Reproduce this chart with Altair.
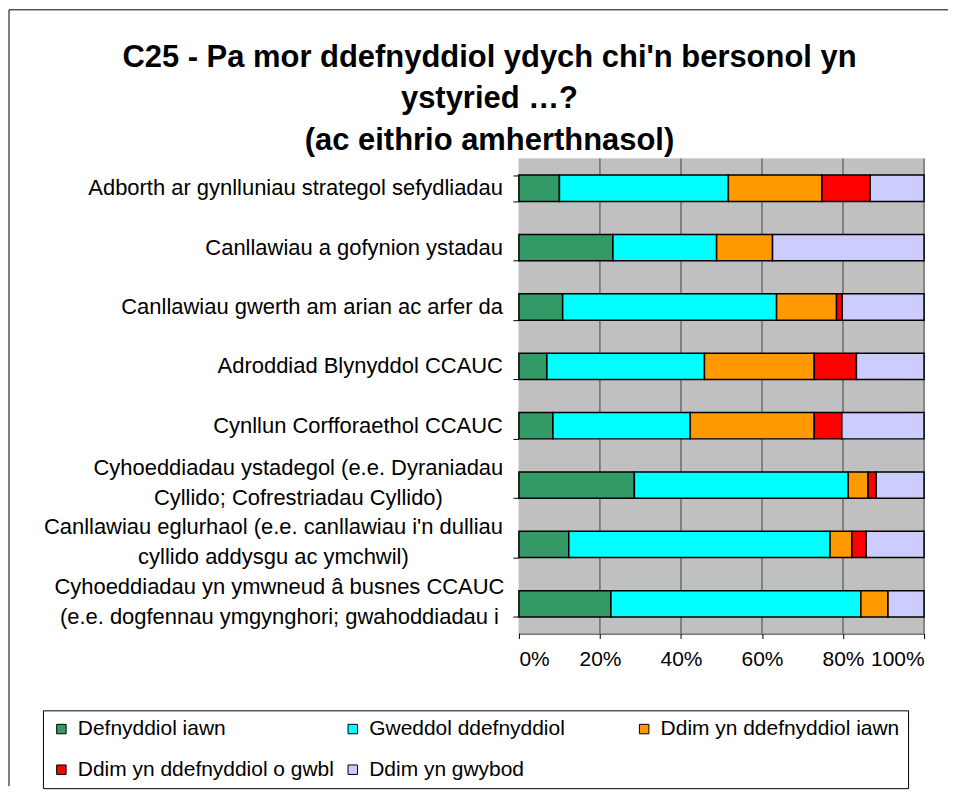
import altair as alt
import pandas as pd

categories = [
    "Adborth ar gynlluniau strategol sefydliadau",
    "Canllawiau a gofynion ystadau",
    "Canllawiau gwerth am arian ac arfer da",
    "Adroddiad Blynyddol CCAUC",
    "Cynllun Corfforaethol CCAUC",
    "Cyhoeddiadau ystadegol (e.e. Dyraniadau|Cyllido; Cofrestriadau Cyllido)",
    "Canllawiau eglurhaol (e.e. canllawiau i'n dulliau|cyllido addysgu ac ymchwil)",
    "Cyhoeddiadau yn ymwneud â busnes CCAUC|(e.e. dogfennau ymgynghori; gwahoddiadau i",
]

series_names = [
    "Defnyddiol iawn",
    "Gweddol ddefnyddiol",
    "Ddim yn ddefnyddiol iawn",
    "Ddim yn ddefnyddiol o gwbl",
    "Ddim yn gwybod",
]
series_colors = ["#339966", "#00FFFF", "#FF9900", "#FF0000", "#CCCCFF"]

defnyddiol_iawn = [10.0, 23.2, 10.8, 6.9, 8.4, 28.5, 12.3, 22.7]
gweddol = [41.7, 25.6, 52.8, 38.9, 33.9, 52.8, 64.5, 61.7]
ddim_iawn = [23.1, 13.8, 14.8, 27.1, 30.6, 4.9, 5.4, 6.7]
ddim_gwbl = [11.9, 0.0, 1.4, 10.4, 6.8, 2.0, 3.5, 0.0]
ddim_gwybod = [13.3, 37.4, 20.2, 16.7, 20.3, 11.8, 14.3, 8.9]

title_lines = [
    "C25 - Pa mor ddefnyddiol ydych chi'n bersonol yn",
    "ystyried …?",
    "(ac eithrio amherthnasol)",
]

x_ticks = [0, 0.2, 0.4, 0.6, 0.8, 1.0]
grid_ticks = [0.2, 0.4, 0.6, 0.8, 1.0]

all_series = [defnyddiol_iawn, gweddol, ddim_iawn, ddim_gwbl, ddim_gwybod]
rows = []
for si, (name, vals) in enumerate(zip(series_names, all_series)):
    for cat, v in zip(categories, vals):
        if v > 0:
            rows.append({"category": cat, "series": name, "order": si, "value": v / 100.0})
df = pd.DataFrame(rows)
cat_df = pd.DataFrame({"category": categories})
grid_df = pd.DataFrame({"t": grid_ticks})

FONT = "Liberation Sans"
PW, PH = 406, 476

y_enc = alt.Y("category:N", sort=categories, title=None)
x_scale = alt.Scale(domain=[0, 1], nice=False)

one = alt.Data(values=[{}])

background = alt.Chart(one).mark_rect(color="#C0C0C0").encode(
    x=alt.value(0), x2=alt.value(PW), y=alt.value(0), y2=alt.value(PH)
)

grid = alt.Chart(grid_df).mark_rule(color="#404040", strokeWidth=1).encode(
    x=alt.X("t:Q", scale=x_scale, title=None)
)

bars = alt.Chart(df).mark_bar(stroke="black", strokeWidth=1.5).encode(
    y=alt.Y(
        "category:N",
        sort=categories,
        title=None,
        scale=alt.Scale(paddingInner=0.556, paddingOuter=0.278),
        axis=alt.Axis(
            labels=False,
            tickBand="extent",
            tickSize=6,
            tickColor="black",
            domainColor="black",
            grid=False,
        ),
    ),
    x=alt.X(
        "value:Q",
        stack="zero",
        title=None,
        scale=x_scale,
        axis=alt.Axis(
            values=x_ticks,
            format=".0%",
            labelFontSize=21,
            labelFont=FONT,
            labelColor="black",
            labelPadding=10,
            tickSize=5,
            tickColor="black",
            domainColor="black",
            grid=False,
        ),
    ),
    color=alt.Color(
        "series:N",
        sort=series_names,
        scale=alt.Scale(domain=series_names, range=series_colors),
        legend=alt.Legend(
            title=None,
            orient="none",
            direction="horizontal",
            legendX=-477,
            legendY=553,
            columns=3,
            gridAlign="all",
            symbolType="square",
            symbolSize=90,
            symbolStrokeColor="black",
            symbolStrokeWidth=1,
            symbolOpacity=1,
            labelFontSize=21,
            labelFont=FONT,
            labelColor="black",
            labelLimit=0,
            labelOffset=6,
            columnPadding=8,
            rowPadding=19,
            padding=8,
            strokeColor="black",
            fillColor="white",
        ),
    ),
    order=alt.Order("order:Q"),
)

label_base = alt.Chart(cat_df).transform_calculate(
    lines="split(datum.category, '|')"
)

single_labels = label_base.transform_filter(
    "indexof(datum.category, '|') < 0"
).mark_text(
    font=FONT, fontSize=22, align="right", baseline="middle", color="black"
).encode(y=y_enc, x=alt.value(-16), text="lines:N")


def multi_label(key, xpos):
    return label_base.transform_filter(
        "indexof(datum.category, '%s') >= 0" % key
    ).mark_text(
        font=FONT, fontSize=22, align="center", baseline="middle",
        lineHeight=30, dy=-17, color="black",
    ).encode(y=y_enc, x=alt.value(xpos), text="lines:N")


label6 = multi_label("Dyraniadau", -221)
label7 = multi_label("eglurhaol", -246)
label8 = multi_label("busnes", -240)

title_text = alt.Chart(one).mark_text(
    font=FONT,
    fontSize=31,
    fontWeight="bold",
    align="center",
    baseline="alphabetic",
    lineHeight=41.5,
    color="black",
).encode(
    x=alt.value(-29.5),
    y=alt.value(-92),
    text=alt.value(title_lines),
)

frame_left = alt.Chart(one).mark_rule(color="black", strokeWidth=1).encode(
    x=alt.value(-511), y=alt.value(-149), y2=alt.value(629)
)
frame_top = alt.Chart(one).mark_rule(color="black", strokeWidth=1).encode(
    x=alt.value(-511), x2=alt.value(430), y=alt.value(-149)
)

chart = (
    alt.layer(background, grid, bars, single_labels, label6, label7, label8,
              title_text, frame_left, frame_top)
    .properties(width=PW, height=PH, padding=0)
    .configure_view(stroke=None)
    .configure(font=FONT, background="white")
)

chart.save("out.html", embed_options={"renderer": "svg", "actions": False})
